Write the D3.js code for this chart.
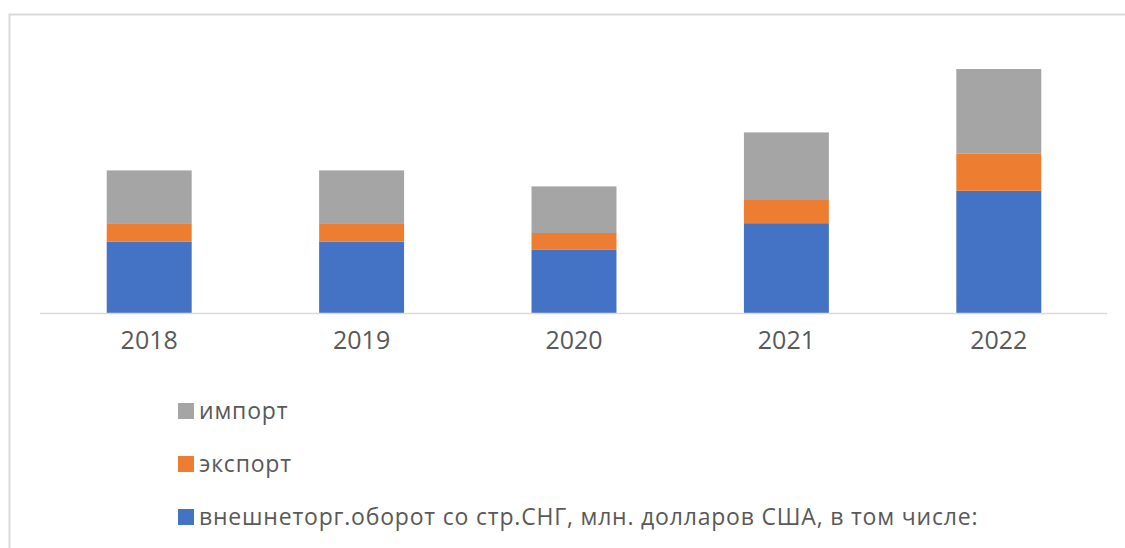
<!DOCTYPE html>
<html>
<head>
<meta charset="utf-8">
<script src="https://cdn.jsdelivr.net/npm/d3@7"></script>
<style>
  body { margin: 0; background: #fff; }
  text { font-family: "Open Sans", sans-serif; fill: #595959; }
</style>
</head>
<body>
<div id="chart"></div>
<script>
// years on the x axis
let years = ["2018", "2019", "2020", "2021", "2022"];
// млн. долларов США (no value axis in the original)
let turnover = [3560, 3560, 3180, 4490, 6110];
let exportVals = [930, 930, 820, 1160, 1870];
let importVals = [2640, 2640, 2330, 3380, 4220];

let seriesNames = ["внешнеторг.оборот со стр.СНГ, млн. долларов США, в том числе:", "экспорт", "импорт"];
let seriesColors = ["#4472c4", "#ed7d31", "#a5a5a5"];

let W = 1125, H = 548;

let svg = d3.select("#chart").append("svg")
    .attr("width", W)
    .attr("height", H);

// chart area frame (runs off the right / bottom edge)
svg.append("rect")
    .attr("x", 9.5).attr("y", 14.5)
    .attr("width", 1300).attr("height", 700)
    .attr("fill", "none")
    .attr("stroke", "#d9d9d9")
    .attr("stroke-width", 2);

let baseY = 313;

let x = d3.scaleBand()
    .domain(years)
    .range([43, 1105])
    .paddingInner(0.6)
    .paddingOuter(0.3);

let y = d3.scaleLinear()
    .domain([0, 12500])
    .range([baseY, baseY - 250]);

// rows for the stack: turnover at the bottom, then export, then import
let rows = years.map(function (yr, i) {
    return {year: yr, s0: turnover[i], s1: exportVals[i], s2: importVals[i]};
});
let stack = d3.stack().keys(["s0", "s1", "s2"]);
let layers = stack(rows);

svg.selectAll(".layer")
    .data(layers)
    .enter().append("g")
    .attr("class", "layer")
    .attr("fill", function (d, i) { return seriesColors[i]; })
    .selectAll("rect")
    .data(function (d) { return d; })
    .enter().append("rect")
    .attr("x", function (d) { return x(d.data.year); })
    .attr("y", function (d) { return y(d[1]); })
    .attr("width", x.bandwidth())
    .attr("height", function (d) { return y(d[0]) - y(d[1]); });

let xAxis = d3.axisBottom(x).tickSize(0).tickPadding(18);

let gx = svg.append("g")
    .attr("class", "x axis")
    .attr("transform", "translate(0," + baseY + ")")
    .call(xAxis);
gx.select(".domain").remove();
gx.append("line")
    .attr("x1", 40).attr("x2", 1107)
    .attr("y1", 0.5).attr("y2", 0.5)
    .attr("stroke", "#d9d9d9")
    .attr("stroke-width", 1.5);
gx.selectAll("text")
    .style("font-family", "'Open Sans', sans-serif")
    .style("font-size", "25px")
    .attr("fill", "#595959");

// legend, listed top-down in reverse series order
let legendOrder = [2, 1, 0];
let legend = svg.append("g").attr("class", "legend");
let items = legend.selectAll("g")
    .data(legendOrder)
    .enter().append("g")
    .attr("transform", function (d, i) { return "translate(178," + (411 + i * 53) + ")"; });

items.append("rect")
    .attr("x", 0).attr("y", -8)
    .attr("width", 16).attr("height", 16)
    .attr("fill", function (d) { return seriesColors[d]; });

items.append("text")
    .attr("x", 21)
    .attr("y", 8)
    .style("font-size", "23px")
    .style("letter-spacing", "0.8px")
    .text(function (d) { return seriesNames[d]; });
</script>
</body>
</html>
